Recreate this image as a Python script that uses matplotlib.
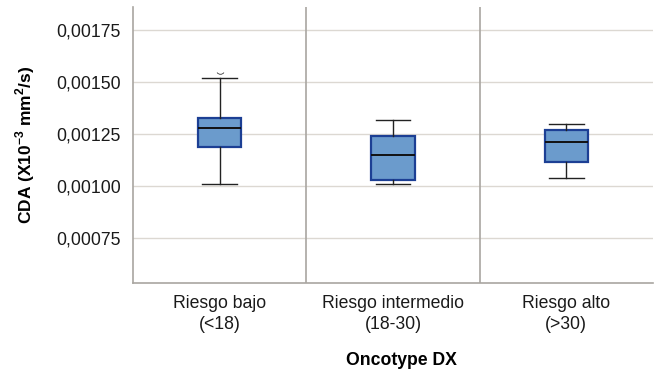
import matplotlib
matplotlib.use("Agg")
from matplotlib import pyplot as plt
from matplotlib.ticker import FuncFormatter

plt.rcParams['font.family'] = ['Liberation Sans', 'DejaVu Sans']
plt.rcParams['mathtext.fontset'] = 'custom'
plt.rcParams['mathtext.rm'] = 'Liberation Sans'
plt.rcParams['mathtext.bf'] = 'Liberation Sans:bold'

# datos
grupos = ['Riesgo bajo\n(<18)', 'Riesgo intermedio\n(18-30)', 'Riesgo alto\n(>30)']
whis_bajo = [0.00101, 0.00101, 0.001038]
q1 = [0.001187, 0.001029, 0.001115]
mediana = [0.001279, 0.00115, 0.001211]
q3 = [0.001327, 0.00124, 0.001269]
whis_alto = [0.00152, 0.001317, 0.001298]
atipicos = [[0.001542], [], []]

stats = []
for i in range(len(grupos)):
	stats.append({'whislo': whis_bajo[i], 'q1': q1[i], 'med': mediana[i],
		'q3': q3[i], 'whishi': whis_alto[i], 'fliers': atipicos[i]})

fig = plt.figure(figsize=(6.54, 3.71), dpi=100)
ax = fig.add_axes([133/654, 1-283/371, 520/654, 276/371])

pos = [0.5, 1.5, 2.5]
ax.bxp(stats, positions=pos, widths=0.25, patch_artist=True,
	boxprops=dict(facecolor='#6b9bcc', edgecolor='#1c3f94', linewidth=1.6),
	medianprops=dict(color='#111111', linewidth=1.4),
	whiskerprops=dict(color='#222222', linewidth=1.0),
	capprops=dict(color='#222222', linewidth=1.0),
	capwidths=0.2,
	flierprops=dict(marker=r'$\smile$', markersize=5, markeredgewidth=0.3,
		color='#555555', markerfacecolor='#555555', markeredgecolor='#555555'))

ax.set_xlim(0, 3)
ax.set_ylim(0.000534, 0.00186)
ax.set_yticks([0.00075, 0.00100, 0.00125, 0.00150, 0.00175])
ax.yaxis.set_major_formatter(FuncFormatter(lambda v, p: ('%.5f' % v).replace('.', ',')))
ax.set_xticks(pos)
ax.set_xticklabels(grupos, linespacing=1.3)

ax.grid(True, axis='y', color='#dcd8d2', linewidth=1.0)
ax.set_axisbelow(True)
for x in [1, 2]:
	ax.axvline(x, color='#a9a6a1', linewidth=1.2)

for s in ['top', 'right']:
	ax.spines[s].set_visible(False)
for s in ['left', 'bottom']:
	ax.spines[s].set_color('#a9a6a1')
	ax.spines[s].set_linewidth(1.2)

ax.tick_params(axis='both', length=0, labelsize=12.7, colors='#1a1a1a')
ax.tick_params(axis='x', pad=8.5)
ax.tick_params(axis='y', pad=8.6)

ax.set_ylabel(r'CDA (X10$^{\mathbf{-3}}$ mm$^{\mathbf{2}}$/s)', fontsize=12.5,
	fontweight='bold', labelpad=14)
ax.set_xlabel('Oncotype DX', fontsize=12.7, fontweight='bold', labelpad=14)
ax.xaxis.set_label_coords((401-133)/520, -0.25)

fig.savefig('out.png', dpi=100)
